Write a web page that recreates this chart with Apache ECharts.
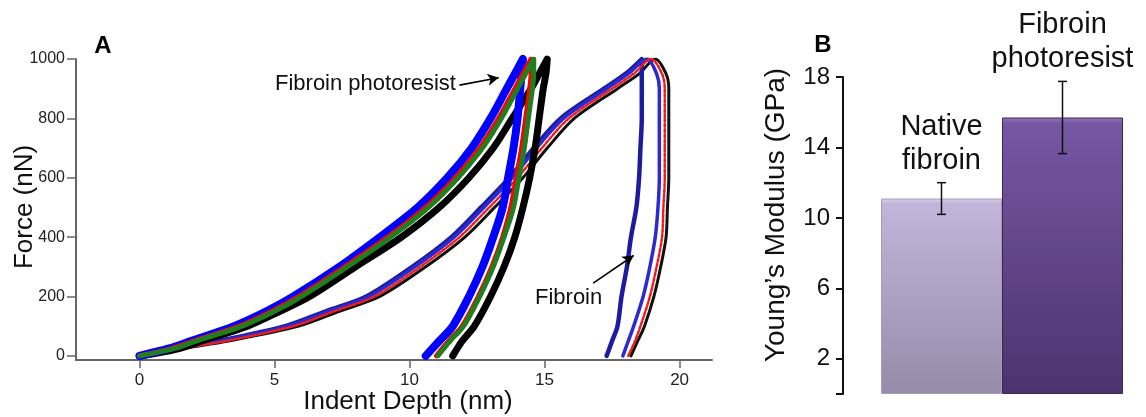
<!DOCTYPE html>
<html>
<head>
<meta charset="utf-8">
<script src="https://cdn.jsdelivr.net/npm/echarts@6/dist/echarts.min.js"></script>
<style>
  html, body { margin: 0; padding: 0; background: #fff; }
  #chart { width: 1146px; height: 417px; }
</style>
</head>
<body>
<div id="chart"></div>
<script>
// ---- Panel A: load / unload curves (force levels in nN, indent depth in nm) ----
const loadForce   = [0, 25, 50, 100, 150, 200, 300, 400, 500, 600, 700, 800, 900, 950, 1000];
const unloadForce = [1000, 950, 900, 800, 700, 600, 500, 400, 300, 200, 100, 50, 0];

// Fibroin photoresist, four indents
const resistBlueLoad    = [0, 1.1, 1.9, 3.5, 4.7, 5.7, 7.4, 8.9, 10.3, 11.4, 12.3, 13.0, 13.6, 13.9, 14.2];
const resistBlueUnload  = [14.2, 14.15, 14.1, 14.0, 13.85, 13.65, 13.45, 13.1, 12.7, 12.2, 11.6, 11.1, 10.6];
const resistRedLoad     = [0, 1.2, 2.0, 3.7, 4.9, 5.9, 7.6, 9.2, 10.6, 11.7, 12.6, 13.3, 13.9, 14.2, 14.5];
const resistRedUnload   = [14.5, 14.5, 14.45, 14.3, 14.15, 13.95, 13.75, 13.45, 13.05, 12.55, 11.95, 11.45, 11.0];
const resistGreenLoad   = [0, 1.3, 2.1, 3.8, 5.0, 6.0, 7.7, 9.3, 10.7, 11.8, 12.7, 13.4, 14.0, 14.3, 14.6];
const resistGreenUnload = [14.6, 14.6, 14.55, 14.4, 14.25, 14.05, 13.85, 13.5, 13.1, 12.6, 12.0, 11.5, 11.05];
const resistBlackLoad   = [0.1, 1.5, 2.3, 4.0, 5.2, 6.3, 8.0, 9.7, 11.1, 12.2, 13.1, 13.8, 14.5, 14.8, 15.1];
const resistBlackUnload = [15.1, 15.05, 14.95, 14.8, 14.65, 14.45, 14.2, 13.9, 13.5, 13.0, 12.4, 11.95, 11.6];

// Native fibroin, four indents
const fibNavyLoad    = [0, 1.3, 2.9, 5.4, 6.9, 8.4, 10.1, 11.55, 12.65, 13.7, 14.6, 15.6, 17.2, 18.0, 18.6];
const fibNavyUnload  = [18.6, 18.6, 18.6, 18.6, 18.55, 18.5, 18.4, 18.2, 18.05, 17.85, 17.7, 17.5, 17.3];
const fibBlueLoad    = [0, 1.4, 3.0, 5.5, 7.0, 8.5, 10.2, 11.65, 12.75, 13.8, 14.7, 15.7, 17.3, 18.1, 18.8];
const fibBlueUnload  = [18.8, 19.15, 19.25, 19.25, 19.25, 19.25, 19.2, 19.1, 18.9, 18.65, 18.3, 18.1, 17.9];
const fibRedLoad     = [0, 1.5, 3.2, 5.7, 7.2, 8.7, 10.4, 11.85, 12.95, 14.0, 14.9, 15.9, 17.5, 18.3, 18.95];
const fibRedUnload   = [18.95, 19.35, 19.45, 19.45, 19.45, 19.45, 19.4, 19.35, 19.15, 18.9, 18.55, 18.35, 18.1];
const fibBlackLoad   = [0.1, 1.6, 3.3, 5.9, 7.4, 8.9, 10.6, 12.05, 13.15, 14.2, 15.1, 16.1, 17.7, 18.5, 19.1];
const fibBlackUnload = [19.1, 19.5, 19.6, 19.6, 19.6, 19.6, 19.55, 19.5, 19.3, 19.05, 18.7, 18.45, 18.2];

const depthTicks = [0, 5, 10, 15, 20];
const forceTicks = [0, 200, 400, 600, 800, 1000];

// ---- Panel B: Young's modulus ----
const barCategories = ['Native\nfibroin', 'Fibroin\nphotoresist'];
const modulusMean   = [11.1, 15.7];
const modulusError  = [0.9, 2.05];
const modulusTicks  = [2, 6, 10, 14, 18];

const FONT = '"Liberation Sans", Arial, Helvetica, sans-serif';

function curve(load, unload) {
  return load.map((d, i) => [d, loadForce[i]])
    .concat(unload.map((d, i) => [d, unloadForce[i]]));
}

function lineSeries(name, data, color, width, z, dash) {
  return {
    name, type: 'line', xAxisIndex: 0, yAxisIndex: 0,
    data, showSymbol: false, smooth: 0.3, z,
    lineStyle: { color, width, cap: 'round', join: 'round', type: dash || 'solid' }
  };
}

const chart = echarts.init(document.getElementById('chart'), null, { renderer: 'canvas' });

const series = [
  lineSeries('Fibroin black', curve(fibBlackLoad, fibBlackUnload), '#111111', 3, 2),
  lineSeries('Fibroin navy', curve(fibNavyLoad, fibNavyUnload), '#1c1ca0', 4.5, 3),
  lineSeries('Fibroin blue', curve(fibBlueLoad, fibBlueUnload), '#2a2ad0', 3.5, 3),
  lineSeries('Fibroin red', curve(fibRedLoad, fibRedUnload), '#ee1c1c', 2.5, 4, [3, 2]),
  lineSeries('Photoresist black', curve(resistBlackLoad, resistBlackUnload), '#000000', 7, 5),
  lineSeries('Photoresist blue', curve(resistBlueLoad, resistBlueUnload), '#0000ff', 8, 6),
  lineSeries('Photoresist red', curve(resistRedLoad, resistRedUnload), '#ff0000', 5, 7),
  lineSeries('Photoresist green', curve(resistGreenLoad, resistGreenUnload), '#1f7f1f', 5, 8, [6, 2])
];

// annotation arrows, placed in data space
series[7].markLine = {
  silent: true,
  symbol: ['none', 'arrow'],
  symbolSize: [9, 11],
  label: { show: false },
  lineStyle: { color: '#000', width: 1.6, type: 'solid' },
  data: [
    [{ coord: [11.85, 912] }, { coord: [13.3, 937] }],
    [{ coord: [16.8, 245] }, { coord: [18.3, 338] }]
  ]
};

const barStyles = [
  {
    color: new echarts.graphic.LinearGradient(0, 0, 0, 1, [
      { offset: 0, color: '#dcd2ea' },
      { offset: 0.025, color: '#c3b5da' },
      { offset: 1, color: '#978ba9' }
    ]),
    borderColor: '#a89cba', borderWidth: 1
  },
  {
    color: new echarts.graphic.LinearGradient(0, 0, 0, 1, [
      { offset: 0, color: '#9478bd' },
      { offset: 0.02, color: '#7657a3' },
      { offset: 1, color: '#4c336e' }
    ]),
    borderColor: '#3a2756', borderWidth: 1
  }
];

series.push({
  name: 'Modulus', type: 'bar', xAxisIndex: 1, yAxisIndex: 1,
  barCategoryGap: '0%', z: 2,
  data: modulusMean.map((v, i) => ({ value: v, itemStyle: barStyles[i] }))
});

series.push({
  name: 'Modulus error', type: 'custom', xAxisIndex: 1, yAxisIndex: 1, z: 5,
  data: modulusMean.map((v, i) => [i, v, modulusError[i]]),
  renderItem(params, api) {
    const idx = api.value(0);
    const mean = api.value(1);
    const err = api.value(2);
    const top = api.coord([idx, mean + err]);
    const bot = api.coord([idx, mean - err]);
    const x = top[0];
    const cap = 4.5;
    const stroke = { stroke: '#111', lineWidth: 1.5 };
    return {
      type: 'group',
      children: [
        { type: 'line', shape: { x1: x, y1: top[1], x2: x, y2: bot[1] }, style: stroke },
        { type: 'line', shape: { x1: x - cap, y1: top[1], x2: x + cap, y2: top[1] }, style: stroke },
        { type: 'line', shape: { x1: x - cap, y1: bot[1], x2: x + cap, y2: bot[1] }, style: stroke },
        {
          type: 'text',
          style: {
            text: barCategories[idx], x: x, y: top[1] - 5,
            align: 'center', verticalAlign: 'bottom',
            fontSize: 29, lineHeight: 34, fontFamily: FONT, fill: '#111'
          }
        }
      ]
    };
  }
});

const option = {
  animation: false,
  backgroundColor: '#ffffff',
  grid: [
    { left: 76, top: 59, width: 636, height: 301 },
    { left: 881, top: 77, width: 242, height: 317 }
  ],
  xAxis: [
    {
      type: 'value', gridIndex: 0, min: -2.35, max: 21.2,
      splitLine: { show: false },
      axisLine: { show: true, onZero: false, lineStyle: { color: '#666', width: 2 } },
      axisTick: { show: true, length: 8, customValues: depthTicks, lineStyle: { color: '#666', width: 1.5 } },
      axisLabel: { customValues: depthTicks, margin: 12, fontSize: 17, color: '#222', fontFamily: FONT, formatter: v => String(v) }
    },
    {
      type: 'category', gridIndex: 1, data: barCategories,
      axisLine: { show: false }, axisTick: { show: false }, axisLabel: { show: false }
    }
  ],
  yAxis: [
    {
      type: 'value', gridIndex: 0, min: -14, max: 1000,
      splitLine: { show: false },
      axisLine: { show: true, onZero: false, lineStyle: { color: '#666', width: 2 } },
      axisTick: { show: true, length: 9, customValues: forceTicks, lineStyle: { color: '#666', width: 1.5 } },
      axisLabel: { customValues: forceTicks, margin: 11, fontSize: 16, color: '#222', fontFamily: FONT, formatter: v => String(v) }
    },
    {
      type: 'value', gridIndex: 1, min: 0, max: 18, offset: 38,
      splitLine: { show: false },
      axisLine: { show: true, lineStyle: { color: '#111', width: 2 } },
      axisTick: { show: true, length: 7, customValues: [0].concat(modulusTicks), lineStyle: { color: '#111', width: 2 } },
      axisLabel: { customValues: modulusTicks, margin: 13, fontSize: 24, color: '#111', fontFamily: FONT, formatter: v => String(v) }
    }
  ],
  graphic: [
    { type: 'text', x: 103, y: 46, style: { text: 'A', fontSize: 24, fontWeight: 'bold', fontFamily: FONT, fill: '#000', align: 'center', verticalAlign: 'middle' } },
    { type: 'text', x: 823, y: 45, style: { text: 'B', fontSize: 24, fontWeight: 'bold', fontFamily: FONT, fill: '#000', align: 'center', verticalAlign: 'middle' } },
    { type: 'text', x: 25, y: 207, rotation: Math.PI / 2, style: { text: 'Force (nN)', fontSize: 26, fontFamily: FONT, fill: '#111', align: 'center', verticalAlign: 'middle' } },
    { type: 'text', x: 408, y: 402, style: { text: 'Indent Depth (nm)', fontSize: 26, fontFamily: FONT, fill: '#111', align: 'center', verticalAlign: 'middle' } },
    { type: 'text', x: 776, y: 215, rotation: Math.PI / 2, style: { text: 'Young\u2019s Modulus (GPa)', fontSize: 28, fontFamily: FONT, fill: '#111', align: 'center', verticalAlign: 'middle' } },
    { type: 'text', x: 275, y: 84, style: { text: 'Fibroin photoresist', fontSize: 22, fontFamily: FONT, fill: '#111', align: 'left', verticalAlign: 'middle' } },
    { type: 'text', x: 535, y: 298, style: { text: 'Fibroin', fontSize: 22, fontFamily: FONT, fill: '#111', align: 'left', verticalAlign: 'middle' } }
  ],
  series
};

chart.setOption(option);
</script>
</body>
</html>
